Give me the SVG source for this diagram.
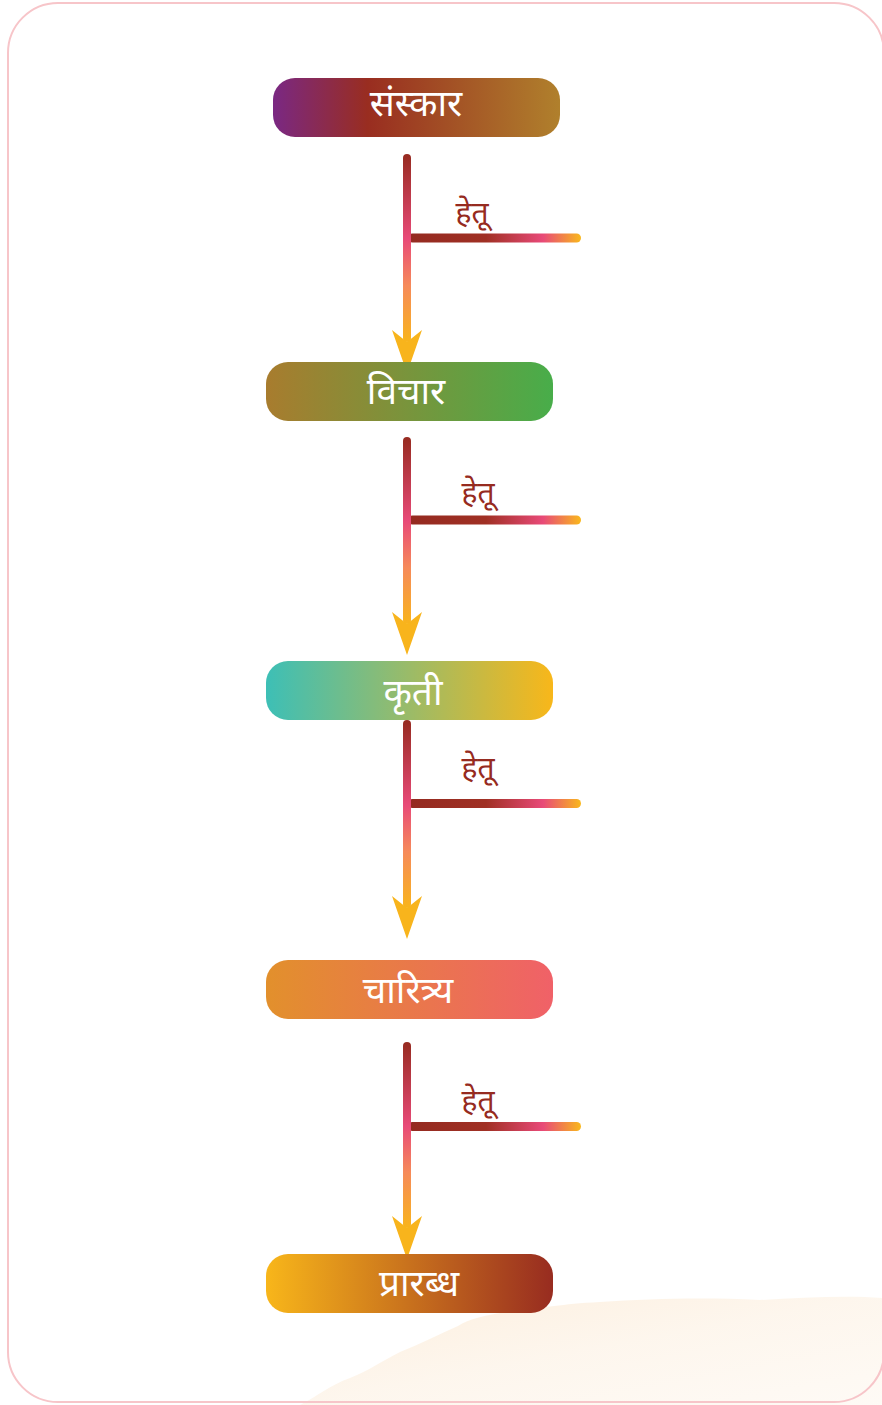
<svg xmlns="http://www.w3.org/2000/svg" width="882" height="1405" viewBox="0 0 882 1405">
<defs>
<style>
.node-text{font-family:"Noto Sans Devanagari","Noto Sans","Lohit Devanagari",sans-serif;font-size:37px;font-weight:400;fill:#ffffff;text-anchor:middle}
.label{font-family:"Noto Sans Devanagari","Noto Sans","Lohit Devanagari",sans-serif;font-size:30px;font-weight:400;fill:#962b20;text-anchor:middle}
.vline{fill:url(#gV)}
.hline{fill:url(#gH)}
.head{fill:#f8b41c}
</style>
<linearGradient id="gV" x1="0" y1="0" x2="0" y2="1">
<stop offset="0" stop-color="#962b20"/>
<stop offset="0.45" stop-color="#e84a78"/>
<stop offset="0.7" stop-color="#f68a5a"/>
<stop offset="1" stop-color="#f8b41c"/>
</linearGradient>
<linearGradient id="gH" x1="0" y1="0" x2="1" y2="0">
<stop offset="0" stop-color="#942a20"/>
<stop offset="0.45" stop-color="#a03024"/>
<stop offset="0.78" stop-color="#e84a78"/>
<stop offset="1" stop-color="#f9b81c"/>
</linearGradient>
<linearGradient id="g1" x1="0" y1="0" x2="1" y2="0">
<stop offset="0" stop-color="#7a2883"/>
<stop offset="0.33" stop-color="#992d20"/>
<stop offset="1" stop-color="#b0802c"/>
</linearGradient>
<linearGradient id="g2" x1="0" y1="0" x2="1" y2="0">
<stop offset="0" stop-color="#a87c2e"/>
<stop offset="1" stop-color="#48ad4a"/>
</linearGradient>
<linearGradient id="g3" x1="0" y1="0" x2="1" y2="0">
<stop offset="0" stop-color="#3dbfb6"/>
<stop offset="1" stop-color="#f8b71a"/>
</linearGradient>
<linearGradient id="g4" x1="0" y1="0" x2="1" y2="0">
<stop offset="0" stop-color="#e2902c"/>
<stop offset="1" stop-color="#f06168"/>
</linearGradient>
<linearGradient id="g5" x1="0" y1="0" x2="1" y2="0">
<stop offset="0" stop-color="#f8b61a"/>
<stop offset="1" stop-color="#982c20"/>
</linearGradient>
<linearGradient id="gBlob" x1="0" y1="0" x2="1" y2="1">
<stop offset="0" stop-color="#fcebd6"/>
<stop offset="0.5" stop-color="#fdf4e9"/>
<stop offset="1" stop-color="#fef9f3"/>
</linearGradient>
</defs>

<g id="background">
<path d="M300,1405 C318,1396 330,1385 350,1378 C370,1370 380,1362 400,1352 C420,1344 440,1334 458,1326 C470,1318 490,1314 520,1310 C545,1308 560,1304 600,1302 C650,1299 700,1297 760,1300 C800,1298 845,1295 882,1298 L882,1405 Z" fill="url(#gBlob)" opacity="0.8"/>
<rect x="8" y="3" width="876" height="1399" rx="50" ry="50" fill="none" stroke="#f7c5c9" stroke-width="2"/>
</g>

<g id="connectors">
<g id="c1">
<rect class="hline" x="408" y="233.5" width="173" height="9" rx="4.5"/>
<rect class="vline" x="403" y="154" width="8" height="188" rx="4"/>
<path class="head" d="M407,373 L392,330 L407,342 L422,330 Z"/>
<text class="label" x="472" y="223">हेतू</text>
</g>
<g id="c2">
<rect class="hline" x="408" y="515.5" width="173" height="9" rx="4.5"/>
<rect class="vline" x="403" y="437" width="8" height="187" rx="4"/>
<path class="head" d="M407,655 L392,612 L407,624 L422,612 Z"/>
<text class="label" x="478" y="503">हेतू</text>
</g>
<g id="c3">
<rect class="hline" x="408" y="799" width="173" height="9" rx="4.5"/>
<rect class="vline" x="403" y="720" width="8" height="188" rx="4"/>
<path class="head" d="M407,939 L392,896 L407,908 L422,896 Z"/>
<text class="label" x="478" y="778">हेतू</text>
</g>
<g id="c4">
<rect class="hline" x="408" y="1122" width="173" height="9" rx="4.5"/>
<rect class="vline" x="403" y="1042" width="8" height="186" rx="4"/>
<path class="head" d="M407,1259 L392,1216 L407,1228 L422,1216 Z"/>
<text class="label" x="478" y="1111">हेतू</text>
</g>
</g>

<g id="node1">
<rect x="273" y="78" width="287" height="59" rx="22" fill="url(#g1)"/>
<text class="node-text" x="416" y="116">संस्कार</text>
</g>
<g id="node2">
<rect x="266" y="362" width="287" height="59" rx="22" fill="url(#g2)"/>
<text class="node-text" x="406" y="404">विचार</text>
</g>
<g id="node3">
<rect x="266" y="661" width="287" height="59" rx="22" fill="url(#g3)"/>
<text class="node-text" x="413" y="705">कृती</text>
</g>
<g id="node4">
<rect x="266" y="960" width="287" height="59" rx="22" fill="url(#g4)"/>
<text class="node-text" x="408" y="1003">चारित्र्य</text>
</g>
<g id="node5">
<rect x="266" y="1254" width="287" height="59" rx="22" fill="url(#g5)"/>
<text class="node-text" x="419" y="1296">प्रारब्ध</text>
</g>
</svg>
